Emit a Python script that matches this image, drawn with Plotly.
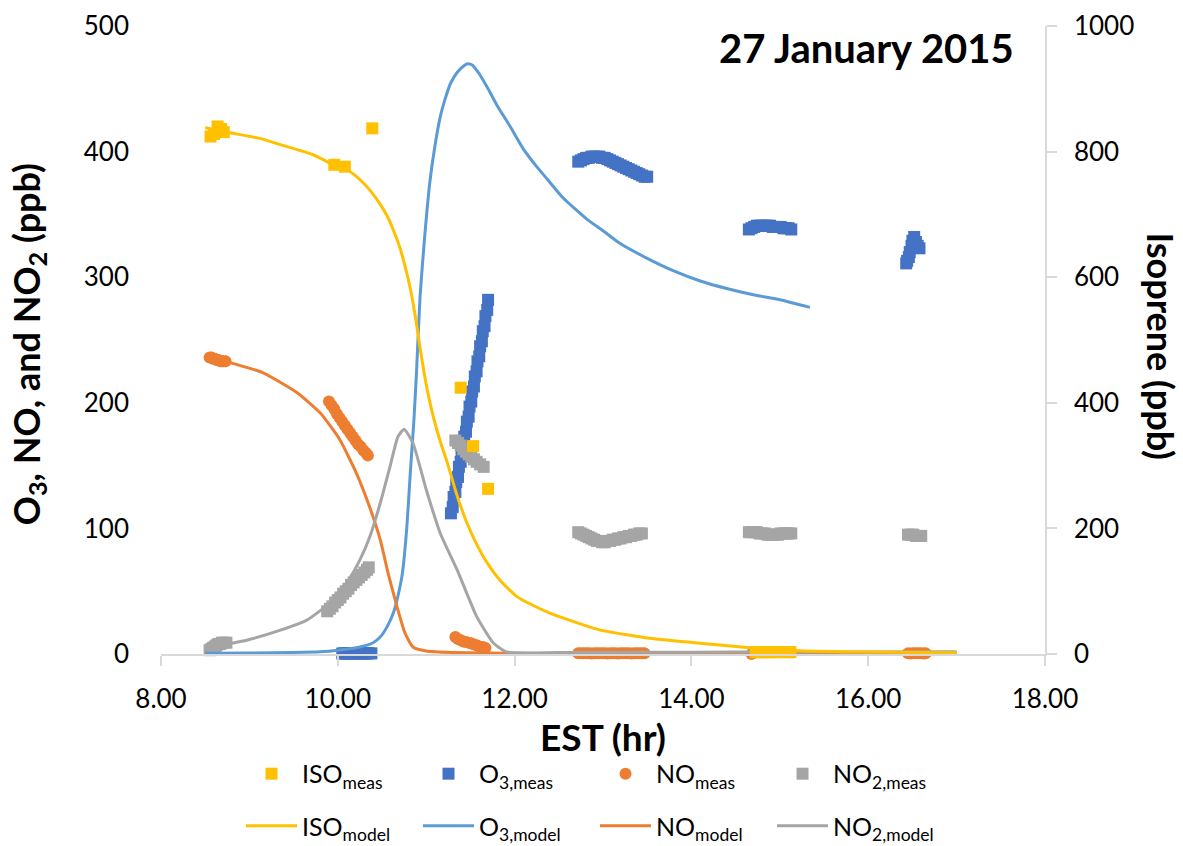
import plotly.graph_objects as go

# ---------------- Measured series (EST hour / ppb), one list per sampling window ----------------
iso_meas_t = [8.56, 8.60, 8.64, 8.68, 8.71, 9.96, 10.08, 10.39, 11.39, 11.53, 11.70,
              14.73, 14.76, 14.79, 14.82, 14.85, 14.88, 14.91, 14.94, 14.97, 15.06, 15.09, 15.12]
iso_meas = [824, 828, 840, 836, 831, 779, 776, 837, 424, 331, 263,
            3, 3, 3, 3, 3, 3, 3, 3, 3, 3, 3, 3]

o3_t_a = [10.05, 10.07, 10.09, 10.11, 10.13, 10.15, 10.17, 10.19, 10.21, 10.23, 10.25, 10.27,
          10.29, 10.31, 10.33, 10.35, 10.38]
o3_a = [0.4, 0.5, 0.3, 0.6, 0.5, 0.4, 0.7, 0.5, 0.6, 0.4, 0.5, 0.6, 0.5, 0.4, 0.6, 0.5, 0.5]
o3_t_b = [11.28, 11.30, 11.31, 11.33, 11.34, 11.36, 11.37, 11.39, 11.40, 11.42, 11.43, 11.45,
          11.46, 11.48, 11.49, 11.51, 11.52, 11.54, 11.55, 11.57, 11.58, 11.60, 11.61, 11.63,
          11.64, 11.66, 11.67, 11.69, 11.70]
o3_b = [112, 117, 125, 129, 137, 141, 149, 153, 161, 165, 173, 177, 185, 189, 197, 201, 209,
        213, 221, 225, 233, 237, 245, 249, 257, 261, 269, 274, 282]
o3_t_c = [12.72, 12.75, 12.78, 12.81, 12.84, 12.87, 12.90, 12.93, 12.96, 12.99, 13.02, 13.05,
          13.08, 13.11, 13.14, 13.17, 13.20, 13.23, 13.26, 13.29, 13.32, 13.35, 13.38, 13.41,
          13.44, 13.47, 13.50]
o3_c = [392, 393, 394, 395, 395, 396, 396, 396, 396, 395, 395, 394, 393, 392, 391, 390, 389,
        388, 387, 386, 385, 384, 383, 382, 381, 380, 380]
o3_t_d = [14.65, 14.68, 14.71, 14.74, 14.77, 14.80, 14.83, 14.86, 14.89, 14.92, 14.95, 14.98,
          15.01, 15.04, 15.07, 15.10, 15.13]
o3_d = [338, 339, 340, 341, 341, 341, 341, 341, 341, 340, 340, 340, 340, 339, 339, 339, 338]
o3_t_e = [16.43, 16.44, 16.46, 16.47, 16.49, 16.50, 16.52, 16.54, 16.56, 16.58]
o3_e = [311, 313, 316, 320, 325, 329, 332, 328, 325, 323]

no_t_a = [8.55, 8.57, 8.59, 8.61, 8.63, 8.65, 8.67, 8.69, 8.71, 8.73]
no_a = [236, 236, 235, 235, 234, 234, 233, 233, 233, 233]
no_t_b = [9.90, 9.93, 9.96, 9.99, 10.02, 10.05, 10.08, 10.11, 10.14, 10.17, 10.20, 10.23,
          10.26, 10.29, 10.32, 10.34]
no_b = [201, 198, 195, 191, 188, 185, 182, 179, 176, 173, 170, 167, 165, 162, 160, 158]
no_t_c = [11.33, 11.36, 11.39, 11.42, 11.45, 11.48, 11.51, 11.54, 11.57, 11.60, 11.64, 11.67]
no_c = [13.5, 12, 11, 10, 9.5, 9, 8.5, 7.5, 7, 6, 5.5, 4.8]
no_t_d = [12.72, 12.75, 12.78, 12.81, 12.84, 12.87, 12.90, 12.93, 12.96, 12.99, 13.02, 13.05,
          13.08, 13.11, 13.14, 13.17, 13.20, 13.23, 13.26, 13.29, 13.32, 13.35, 13.38, 13.41,
          13.44, 13.47, 14.68]
no_d = [0.6, 0.5, 0.5, 0.6, 0.5, 0.4, 0.5, 0.5, 0.6, 0.5, 0.5, 0.4, 0.5, 0.6, 0.5, 0.4, 0.5,
        0.5, 0.6, 0.5, 0.4, 0.5, 0.5, 0.6, 0.5, 0.5, 0.0]
no_t_e = [16.45, 16.48, 16.51, 16.54, 16.57, 16.60, 16.63, 16.65]
no_e = [0.5, 0.4, 0.5, 0.6, 0.5, 0.5, 0.4, 0.5]

no2_t_a = [8.55, 8.57, 8.59, 8.61, 8.63, 8.65, 8.67, 8.69, 8.71, 8.74]
no2_a = [3, 4, 5, 6, 7, 8, 8, 9, 9, 9]
no2_t_b = [9.88, 9.91, 9.94, 9.97, 10.00, 10.03, 10.06, 10.09, 10.12, 10.15, 10.18, 10.21,
           10.24, 10.27, 10.30, 10.33, 10.35]
no2_b = [34, 36, 38, 41, 43, 45, 48, 50, 52, 55, 57, 59, 61, 63, 65, 67, 69]
no2_t_c = [11.33, 11.36, 11.39, 11.42, 11.45, 11.48, 11.51, 11.54, 11.57, 11.61, 11.65]
no2_c = [170, 168, 166, 163, 161, 159, 157, 155, 153, 151, 149]
no2_t_d = [12.72, 12.75, 12.78, 12.81, 12.84, 12.87, 12.90, 12.93, 12.96, 12.99, 13.02, 13.05,
           13.08, 13.11, 13.14, 13.17, 13.20, 13.23, 13.26, 13.29, 13.32, 13.35, 13.38, 13.41,
           13.44]
no2_d = [97, 96, 95, 94, 93, 92, 91, 90, 90, 89, 89, 90, 90, 91, 91, 92, 92, 93, 93, 94, 94,
         95, 95, 96, 96]
no2_t_e = [14.65, 14.68, 14.71, 14.74, 14.77, 14.80, 14.83, 14.86, 14.89, 14.92, 14.95, 14.98,
           15.01, 15.04, 15.07, 15.10, 15.13]
no2_e = [97, 97, 97, 97, 96, 96, 96, 95, 95, 95, 95, 95, 96, 96, 96, 96, 96]
no2_t_f = [16.45, 16.48, 16.51, 16.54, 16.57, 16.60]
no2_f = [95, 95, 95, 94, 94, 94]

# ---------------- Model series ----------------
iso_model_t = [8.5, 8.78, 9.12, 9.35, 9.72, 9.95, 10.14, 10.29, 10.40, 10.48, 10.56, 10.62,
               10.70, 10.76, 10.82, 10.88, 10.93, 10.98, 11.02, 11.08, 11.16, 11.24, 11.35,
               11.46, 11.57, 11.69, 11.85, 12.03, 12.2, 12.4, 12.7, 12.97, 13.25, 13.53, 14.1,
               14.66, 15.23, 16.0, 17.0]
iso_model = [838, 830, 821, 811, 795, 779, 768, 750, 732, 716, 697, 678,
             648, 618, 582, 535, 488, 445, 415, 378, 338, 304, 252,
             209, 175, 145, 115, 91, 78, 65, 50, 38, 31, 25, 17,
             10, 5, 3, 2]

o3_model_t = [8.5, 9.0, 9.5, 9.8, 10.0, 10.25, 10.4, 10.48, 10.56, 10.63, 10.68, 10.73, 10.78,
              10.82, 10.86, 10.89, 10.93, 10.98, 11.04, 11.1, 11.16, 11.21, 11.28, 11.35, 11.42,
              11.47, 11.52, 11.6, 11.7, 11.8, 11.95, 12.1, 12.25, 12.37, 12.55, 12.82, 13.0,
              13.19, 13.5, 13.8, 14.1, 14.4, 14.7, 15.0, 15.34]
o3_model = [0.5, 0.8, 1.2, 1.8, 3, 5.6, 9, 13.5, 22, 33, 46, 64, 100,
            144, 185, 224, 284, 330, 375, 405, 428, 441, 455, 463, 468,
            470, 469, 462, 450, 437, 420, 402, 388, 378, 363, 346, 337,
            327, 315, 305, 297, 291, 286, 282, 276]

no_model_t = [8.5, 8.78, 9.15, 9.54, 9.80, 10.02, 10.21, 10.36, 10.48, 10.57, 10.67, 10.76,
              10.85, 11.0, 11.3, 12.0, 13.0, 14.0, 15.0, 16.0, 17.0]
no_model = [237, 232, 224, 208, 192, 171, 144, 117, 91, 64, 37.5, 16.7,
            5.6, 2.4, 1.2, 0.6, 0.4, 0.3, 0.3, 0.2, 0.2]

no2_model_t = [8.5, 8.97, 9.35, 9.65, 9.91, 10.1, 10.25, 10.36, 10.48, 10.59, 10.68, 10.75,
               10.85, 11.0, 11.16, 11.35, 11.57, 11.76, 11.91, 12.5, 13.5, 14.5, 15.5, 16.5, 17.0]
no2_model = [4.8, 11, 19, 27, 40.6, 56.6, 75, 93, 120, 149, 173, 179,
             168, 131, 96, 67, 30, 8.8, 1.6, 1.2, 1.3, 1.5, 1.6, 1.7, 1.7]

x_ticks = [8, 10, 12, 14, 16, 18]

# stitch the sampling windows of each measured species together
o3_meas_t = o3_t_a + o3_t_b + o3_t_c + o3_t_d + o3_t_e
o3_meas = o3_a + o3_b + o3_c + o3_d + o3_e
no_meas_t = no_t_a + no_t_b + no_t_c + no_t_d + no_t_e
no_meas = no_a + no_b + no_c + no_d + no_e
no2_meas_t = no2_t_a + no2_t_b + no2_t_c + no2_t_d + no2_t_e + no2_t_f
no2_meas = no2_a + no2_b + no2_c + no2_d + no2_e + no2_f

FONT = "Lato"
YELLOW, BLUE_M, BLUE_L, ORANGE, GRAY = "#FFC000", "#4472C4", "#5B9BD5", "#ED7D31", "#A5A5A5"
AXIS_GRAY = "#D9D9D9"
SPLINE = dict(width=3, shape="spline", smoothing=0.5)

fig = go.Figure()

# measured points on the primary axis
fig.add_trace(go.Scatter(x=o3_meas_t, y=o3_meas, mode="markers", name="O<sub>3,meas</sub>",
                         marker=dict(symbol="square", size=12, color=BLUE_M),
                         cliponaxis=False, legend="legend", legendrank=2))
fig.add_trace(go.Scatter(x=no_meas_t, y=no_meas, mode="markers", name="NO<sub>meas</sub>",
                         marker=dict(symbol="circle", size=12, color=ORANGE),
                         cliponaxis=False, legend="legend", legendrank=3))
fig.add_trace(go.Scatter(x=no2_meas_t, y=no2_meas, mode="markers", name="NO<sub>2,meas</sub>",
                         marker=dict(symbol="square", size=12, color=GRAY),
                         cliponaxis=False, legend="legend", legendrank=4))

# model curves on the primary axis
fig.add_trace(go.Scatter(x=o3_model_t, y=o3_model, mode="lines", name="O<sub>3,model</sub>",
                         line=dict(SPLINE, color=BLUE_L), legend="legend2", legendrank=6))
fig.add_trace(go.Scatter(x=no_model_t, y=no_model, mode="lines", name="NO<sub>model</sub>",
                         line=dict(SPLINE, color=ORANGE), legend="legend2", legendrank=7))
fig.add_trace(go.Scatter(x=no2_model_t, y=no2_model, mode="lines", name="NO<sub>2,model</sub>",
                         line=dict(SPLINE, color=GRAY), legend="legend2", legendrank=8))

# isoprene on the secondary axis
fig.add_trace(go.Scatter(x=iso_meas_t, y=iso_meas, mode="markers", name="ISO<sub>meas</sub>",
                         marker=dict(symbol="square", size=12, color=YELLOW), yaxis="y2",
                         cliponaxis=False, legend="legend", legendrank=1))
fig.add_trace(go.Scatter(x=iso_model_t, y=iso_model, mode="lines", name="ISO<sub>model</sub>",
                         line=dict(SPLINE, color=YELLOW), yaxis="y2",
                         legend="legend2", legendrank=5))

tick_font = dict(family=FONT, size=26, color="black")
legend_common = dict(orientation="h", xanchor="left", yanchor="middle", x=0.0905,
                     entrywidth=111, entrywidthmode="pixels", itemwidth=51,
                     font=dict(family=FONT, size=25, color="black"),
                     bgcolor="rgba(0,0,0,0)", traceorder="normal")

fig.update_layout(
    width=1183, height=846, autosize=False,
    margin=dict(l=161, r=138, t=26, b=192, autoexpand=False),
    paper_bgcolor="white", plot_bgcolor="white",
    font=dict(family=FONT, color="black"),
    xaxis=dict(range=[8, 18], tickvals=x_ticks, tickformat=".2f", showgrid=False, zeroline=False,
               showline=True, linecolor=AXIS_GRAY, linewidth=1.5, ticks="outside", ticklen=10,
               tickcolor=AXIS_GRAY, tickwidth=1.5, tickfont=tick_font, ticklabelstandoff=11,
               title=dict(text="<b>EST (hr)</b>", font=dict(family=FONT, size=37), standoff=4)),
    yaxis=dict(range=[0, 500], dtick=100, showgrid=False, zeroline=False, showline=False,
               ticks="", tickfont=tick_font, ticklabelstandoff=31),
    yaxis2=dict(range=[0, 1000], dtick=200, overlaying="y", side="right", showgrid=False,
                zeroline=False, showline=True, linecolor=AXIS_GRAY, linewidth=1.5,
                ticks="outside", ticklen=10, tickcolor=AXIS_GRAY, tickwidth=1.5,
                tickfont=tick_font, ticklabelstandoff=12),
    legend=dict(legend_common, y=-0.191),
    legend2=dict(legend_common, y=-0.274),
    showlegend=True,
)

# axis titles and the date label
fig.add_annotation(text="<b>O<sub>3</sub>, NO, and NO<sub>2</sub> (ppb)</b>", xref="paper", yref="paper",
                   x=-0.150, y=0.494, textangle=-90, showarrow=False,
                   font=dict(family=FONT, size=36, color="black"), xanchor="center", yanchor="middle")
fig.add_annotation(text="<b>Isoprene (ppb)</b>", xref="paper", yref="paper",
                   x=1.131, y=0.49, textangle=90, showarrow=False,
                   font=dict(family=FONT, size=36, color="black"), xanchor="center", yanchor="middle")
fig.add_annotation(text="<b>27 January 2015</b>", xref="paper", yref="paper",
                   x=0.967, y=0.965, showarrow=False, xanchor="right", yanchor="middle",
                   font=dict(family=FONT, size=40, color="black"))

fig.write_html("out.html")
